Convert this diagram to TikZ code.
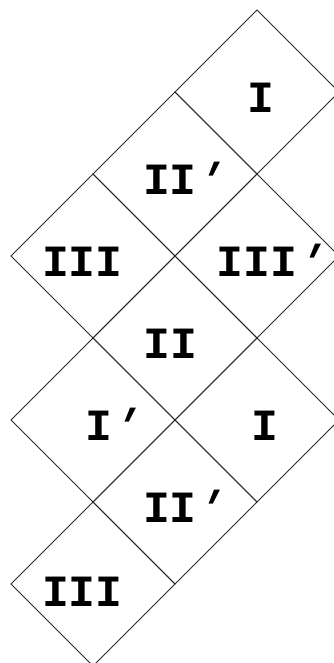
\documentclass[tikz,border=0pt]{standalone}
\usepackage{fontspec}
\setmonofont{Liberation Mono}
\newcommand{\prm}{\kern-0.15em{\addfontfeature{FakeSlant=0.45}'}}

\tikzset{
  cell/.style={draw=black!85, line width=0.6pt, line join=miter},
  tag/.style={font=\ttfamily\bfseries\fontsize{31}{31}\selectfont, anchor=base, inner sep=0pt}
}

\begin{document}
\begin{tikzpicture}[x=2cm, y=2cm]

  \useasboundingbox (-0.134,0.037) rectangle (3.927,8.122);

  % ---- cells, top to bottom ----
  \draw[cell] (3,8) -- (4,7) -- (3,6) -- (2,7) -- cycle;
  \draw[cell] (2,7) -- (3,6) -- (2,5) -- (1,6) -- cycle;
  \draw[cell] (1,6) -- (2,5) -- (1,4) -- (0,5) -- cycle;
  \draw[cell] (3,6) -- (4,5) -- (3,4) -- (2,5) -- cycle;
  \draw[cell] (2,5) -- (3,4) -- (2,3) -- (1,4) -- cycle;
  \draw[cell] (1,4) -- (2,3) -- (1,2) -- (0,3) -- cycle;
  \draw[cell] (3,4) -- (4,3) -- (3,2) -- (2,3) -- cycle;
  \draw[cell] (2,3) -- (3,2) -- (2,1) -- (1,2) -- cycle;
  \draw[cell] (1,2) -- (2,1) -- (1,0) -- (0,1) -- cycle;

  % ---- labels ----
  \node[tag] (oneA)   at (3.05,6.75) {I};
  \node[tag] (twoA)   at (2.06,5.75) {II\prm};
  \node[tag] (threeA) at (0.87,4.75) {III};
  \node[tag] (threeB) at (3.12,4.75) {III\prm};
  \node[tag] (twoB)   at (1.94,3.75) {II};
  \node[tag] (oneB)   at (1.19,2.75) {I\prm};
  \node[tag] (oneC)   at (3.10,2.75) {I};
  \node[tag] (twoC)   at (2.06,1.75) {II\prm};
  \node[tag] (threeC) at (0.87,0.73) {III};

\end{tikzpicture}
\end{document}
